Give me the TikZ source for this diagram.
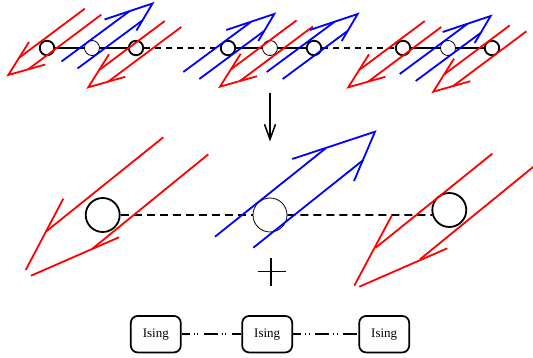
\documentclass[tikz,border=0pt]{standalone}
\usepackage{fontspec}
\setmainfont{Liberation Serif}
\usetikzlibrary{arrows.meta}
\definecolor{myred}{RGB}{255,0,0}
\definecolor{myblue}{RGB}{0,0,255}
\tikzset{
  redln/.style={myred,line width=1.8pt},
  blueln/.style={myblue,line width=1.8pt},
  sthick/.style={circle,draw,line width=1.8pt,minimum size=14.5pt,inner sep=0pt},
  sthin/.style={circle,draw,line width=0.8pt,minimum size=15pt,inner sep=0pt},
  bthick/.style={circle,draw,line width=1.8pt,minimum size=34pt,inner sep=0pt},
  bthin/.style={circle,draw,line width=0.8pt,minimum size=34pt,inner sep=0pt},
  chainln/.style={line width=1.8pt},
  chaindash/.style={line width=1.8pt,dash pattern=on 6pt off 5pt},
  bigdash/.style={line width=1.8pt,dash pattern=on 8pt off 5pt},
  isingbox/.style={draw,line width=1.7pt,rounded corners=7pt,minimum width=50pt,
    minimum height=36.5pt,inner sep=0pt,font=\fontsize{13}{15}\selectfont},
  isinglink/.style={line width=1.7pt,dash pattern=on 14pt off 4pt on 1pt off 2.5pt on 1pt off 5.5pt,dash phase=6pt},
  redsm/.pic={
    \draw[redln] (76.5,-66.3) -- (10.8,-17.2);
    \draw[redln] (93,-60.3) -- (19.8,-5.6);
    \draw[redln] (20.7,-33) -- (0,0) -- (37,-10.5);
  },
  bluesm/.pic={
    \draw[blueln] (-91,58) -- (-23,7.7);
    \draw[blueln] (-75,65) -- (-9.9,16.8);
    \draw[blueln] (-48,16) -- (0,0) -- (-16,27);
  }
}
\begin{document}
\begin{tikzpicture}[x=1pt,y=-1pt]
\useasboundingbox (0,0) rectangle (533,358);
% top row spins
\node[sthick] (c1) at (47,48) {};
\node[sthin]  (c2) at (92,48) {};
\node[sthick] (c3) at (136,48) {};
\node[sthick] (c4) at (228,48) {};
\node[sthin]  (c5) at (270,48) {};
\node[sthick] (c6) at (314,48) {};
\node[sthick] (c7) at (403,48) {};
\node[sthin]  (c8) at (448,48) {};
\node[sthick] (c9) at (492,48) {};
\draw[chainln] (c1) -- (c2);
\draw[chainln] (c2) -- (c3);
\draw[chaindash] (c3) -- (c4);
\draw[chainln] (c4) -- (c5);
\draw[chainln] (c5) -- (c6);
\draw[chaindash] (c6) -- (c7);
\draw[chainln] (c7) -- (c8);
\draw[chainln] (c8) -- (c9);
% top row arrows
\pic at (8.3,75) {redsm};
\pic at (152.5,3.5) {bluesm};
\pic at (88.3,87.3) {redsm};
\pic at (274.3,14) {bluesm};
\pic at (220,86.7) {redsm};
\pic at (357.7,14) {bluesm};
\pic at (348.3,87.3) {redsm};
\pic at (490.7,16) {bluesm};
\pic at (433.3,91.7) {redsm};
% vertical arrow
\coordinate (vTop) at (270,93);
\coordinate (vBot) at (270,141.5);
\draw[line width=1.5pt,-{Straight Barb[length=15pt,width=11pt]}] (vTop) -- (vBot);
% big row spins
\node[bthick] (L) at (102.7,215) {};
\node[bthin]  (M) at (270,215) {};
\node[bthick] (R) at (449.3,210) {};
\draw[bigdash] (L) -- (M);
\draw[bigdash] (M) -- (R.196);
% big left red arrow
\draw[redln] (163.3,137.3) -- (46.7,231);
\draw[redln] (208.3,154.3) -- (91.7,249.3);
\draw[redln] (63.3,198.7) -- (25.7,270);
\draw[redln] (119,237.3) -- (31,275.7);
% big blue arrow
\draw[blueln] (215,236.7) -- (325.7,148.3);
\draw[blueln] (253.3,247.7) -- (363.3,160);
\draw[blueln] (292.3,159) -- (375,131.7) -- (354,181);
% big right red arrow
\draw[redln] (492.3,153.7) -- (375.7,247.7);
\draw[redln] (540,161.4) -- (420,259.3);
\draw[redln] (391.7,215.7) -- (354.3,285.7);
\draw[redln] (447.3,248.3) -- (359.3,286.7);
% plus
\draw[line width=1.8pt] (257.5,271.5) -- (285.5,271.5);
\draw[line width=1.8pt] (271,258.5) -- (271,286);
% Ising chain
\node[isingbox] (b1) at (155.8,334.2) {Ising};
\node[isingbox] (b2) at (267.2,334.2) {Ising};
\node[isingbox] (b3) at (384.2,334.2) {Ising};
\draw[isinglink] (b1) -- (b2);
\draw[isinglink] (b2) -- (b3);
\end{tikzpicture}
\end{document}
